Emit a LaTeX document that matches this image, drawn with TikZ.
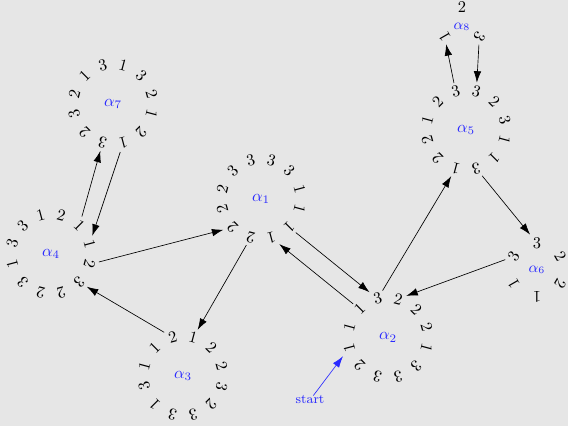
\documentclass[tikz,border=0pt]{standalone}
\usetikzlibrary{calc,arrows.meta}
\definecolor{bg}{HTML}{E6E6E6}
\definecolor{labblue}{HTML}{2A2AFF}
\newcommand\mkring[5]{%
  \foreach \d [count=\i] in {#5} {
    \pgfmathsetmacro\ang{#3+#4*(\i-1)}
    \pgfmathsetmacro\rot{\ang-90}
    \node[digit, rotate=\rot] (#1-\i) at ($(#1)+(\ang:#2)$) {\d};
  }}
\begin{document}
\begin{tikzpicture}[x=0.6092pt,y=-0.6092pt,
  digit/.style={inner sep=1.5pt},
  lab/.style={text=labblue, inner sep=0pt},
  arr/.style={-{Latex[length=7pt,width=4.6pt]}, line width=0.4pt}]
\fill[bg] (0,0) rectangle (568,426);
\useasboundingbox (0,0) rectangle (568,426);

\node[lab] (a1) at (261,199) {$\alpha_1$};
\node[lab] (a2) at (388,337.5) {$\alpha_2$};
\node[lab] (a3) at (183,376) {$\alpha_3$};
\node[lab] (a4) at (51,254) {$\alpha_4$};
\node[lab] (a5) at (466,130) {$\alpha_5$};
\node[lab, font=\small] (a6) at (537,270) {$\alpha_6$};
\node[lab] (a7) at (113,104) {$\alpha_7$};
\node[lab, font=\small] (a8) at (462,27) {$\alpha_8$};

\mkring{a1}{24.4pt}{15}{30}{1,3,3,3,3,2,2,2,2,1,1,1}
\mkring{a2}{24.4pt}{15}{30}{2,2,2,3,1,1,1,2,3,3,3,1}
\mkring{a3}{24.4pt}{15}{30}{2,2,1,2,1,1,3,1,3,3,2,3}
\mkring{a4}{24.4pt}{15}{30}{1,1,2,1,3,3,1,3,2,2,3,2}
\mkring{a5}{24.4pt}{15}{30}{3,2,3,3,2,1,2,2,1,3,1,1}
\mkring{a7}{24.4pt}{15}{30}{2,3,1,3,1,2,3,2,3,1,2,1}
\mkring{a6}{16.4pt}{30}{60}{2,3,3,1,1,2}
\mkring{a8}{12.2pt}{90}{120}{2,1,3}

\node[lab, font=\footnotesize] (start) at (310,400) {start};

\draw[arr] (a4-12) -- (a1-8);
\draw[arr] (a1-9) -- (a3-3);
\draw[arr] (a3-4) -- (a4-11);
\draw[arr] (a4-2) -- (a7-9);
\draw[arr] (a7-10) -- (a4-1);
\draw[arr] (a1-11) -- (a2-4);
\draw[arr] (a2-5) -- (a1-10);
\draw[arr] (a2-4) -- (a5-9);
\draw[arr] (a5-10) -- (a6-2);
\draw[arr] (a6-3) -- (a2-3);
\draw[arr] (a5-4) -- (a8-2);
\draw[arr] (a8-3) -- (a5-3);
\draw[arr, labblue] (start) -- (a2-7);
\end{tikzpicture}
\end{document}
